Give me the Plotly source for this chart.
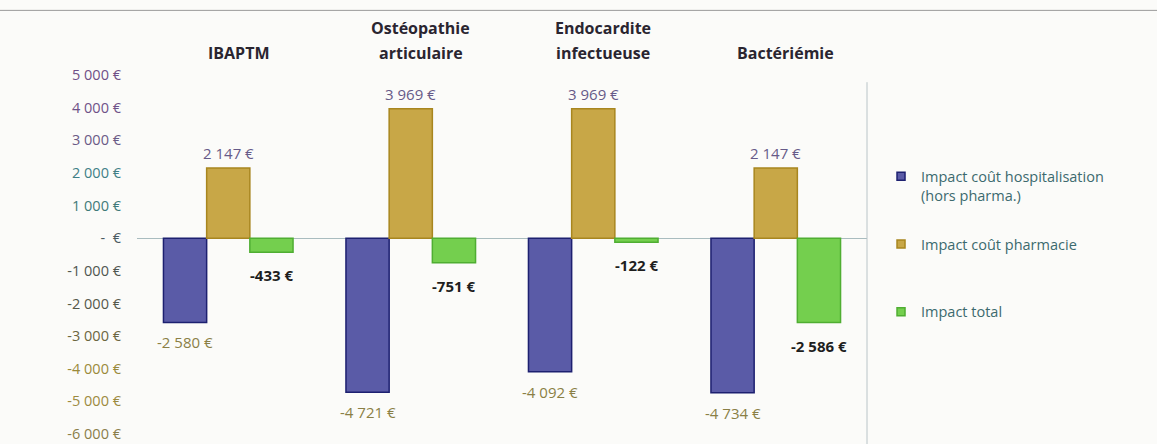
import plotly.graph_objects as go

# Pathologies (shown above the plot)
categories = ["IBAPTM", "Ostéopathie<br>articulaire", "Endocardite<br>infectueuse", "Bactériémie"]

# Cost impacts per pathology, in euros
hospitalisation = [-2580, -4721, -4092, -4734]
pharmacie = [2147, 3969, 3969, 2147]
total = [-433, -751, -122, -2586]

series_names = [
    "Impact coût hospitalisation<br>(hors pharma.)",
    "Impact coût pharmacie<br> ",
    "Impact total",
]

tick_values = [5000, 4000, 3000, 2000, 1000, 0, -1000, -2000, -3000, -4000, -5000, -6000]
tick_colors = ["#6f4f86", "#6f5288", "#6a5a86", "#3f7f86", "#3f7a78", "#4a5a60",
               "#4f5650", "#55584a", "#6b6640", "#9a8a3a", "#9c8a3e", "#8a7e4a"]

FONT = "Open Sans"
FILL = ["#5a5ba7", "#c8a747", "#74cf4e"]
EDGE = ["#1d2070", "#a8861f", "#4fae32"]

# Layout geometry
W, H = 1157, 444
ML, MR, MT, MB = 137, 290, 75, 10
BARGAP = 0.29


def euro(v):
    """French-style euro amount: thousands separated by a space."""
    if v == 0:
        return "-  €"
    s = f"{abs(v):,}".replace(",", " ")
    return ("-" if v < 0 else "") + s + " €"


tick_text = [f'<span style="color:{c}">{euro(v)}</span>' for v, c in zip(tick_values, tick_colors)]

fig = go.Figure()
series = [hospitalisation, pharmacie, total]
for i, values in enumerate(series):
    fig.add_trace(go.Bar(
        name=series_names[i], x=categories, y=values,
        marker=dict(color=FILL[i], line=dict(color=EDGE[i], width=1.5)),
        showlegend=False,
    ))

# Small square swatches for the legend
for i, name in enumerate(series_names):
    fig.add_trace(go.Scatter(
        name=name, x=[None], y=[None], mode="markers",
        marker=dict(symbol="square", size=8, color=FILL[i], line=dict(color=EDGE[i], width=1.5)),
        legendgroup=f"g{i}",
    ))

annotations = []

# Value labels, placed at each bar's end
group_px = (W - ML - MR) / len(categories)
bar_px = group_px * (1 - BARGAP) / len(series)
label_fonts = [
    dict(family=FONT, size=15, color="#8a7f45"),
    dict(family=FONT, size=15, color="#665a88"),
    dict(family=FONT, size=15, color="#1e1e1e", weight="bold"),
]
label_gap = [20, 15, 23]
for i, values in enumerate(series):
    for cat, v in zip(categories, values):
        annotations.append(dict(
            x=cat, xref="x", y=v, yref="y", yanchor="middle",
            xshift=(i - 1) * bar_px, yshift=label_gap[i] if v > 0 else -label_gap[i],
            text=euro(v), showarrow=False, font=label_fonts[i],
        ))

# Category headings above the plot, one annotation per text line
for cat in categories:
    lines = cat.split("<br>")
    for k, line in enumerate(reversed(lines)):
        annotations.append(dict(
            x=cat, xref="x", y=1, yref="paper", yanchor="middle",
            xshift=10, yshift=22 + 25 * k, text=line, showarrow=False,
            font=dict(family=FONT, size=16, color="#2a2530", weight="bold"),
        ))

fig.update_layout(
    width=W, height=H,
    margin=dict(l=ML, r=MR, t=MT, b=MB),
    paper_bgcolor="#fbfbf9", plot_bgcolor="#fbfbf9",
    barmode="group", bargap=BARGAP, bargroupgap=0,
    font=dict(family=FONT, size=12, color="#444"),
    showlegend=True,
    legend=dict(
        x=1.0192, xanchor="left", y=0.762, yanchor="top",
        font=dict(family=FONT, size=14.5, color="#3c6a6e"),
        valign="top", tracegroupgap=27, itemwidth=30,
        bgcolor="rgba(0,0,0,0)",
    ),
    xaxis=dict(showticklabels=False, showline=False, ticks="", showgrid=False),
    yaxis=dict(
        range=[-6000, 5000], tickvals=tick_values, ticktext=tick_text,
        showgrid=False, showline=False, ticks="",
        zeroline=True, zerolinecolor="#a9bcbf", zerolinewidth=1,
        tickfont=dict(family=FONT, size=14.5), ticklabelstandoff=15,
        ticklabeloverflow="allow", automargin=False,
    ),
    annotations=annotations,
    shapes=[
        # right border of the plotting area
        dict(type="line", xref="paper", yref="paper", x0=1, x1=1, y0=-0.05, y1=0.98,
             line=dict(color="#b9c4c8", width=1)),
        # header rule of the slide
        dict(type="line", xref="paper", yref="paper", x0=-0.2, x1=1.4, y0=1.18, y1=1.18,
             line=dict(color="#9a9a9a", width=1)),
    ],
)

fig.write_html("out.html")
